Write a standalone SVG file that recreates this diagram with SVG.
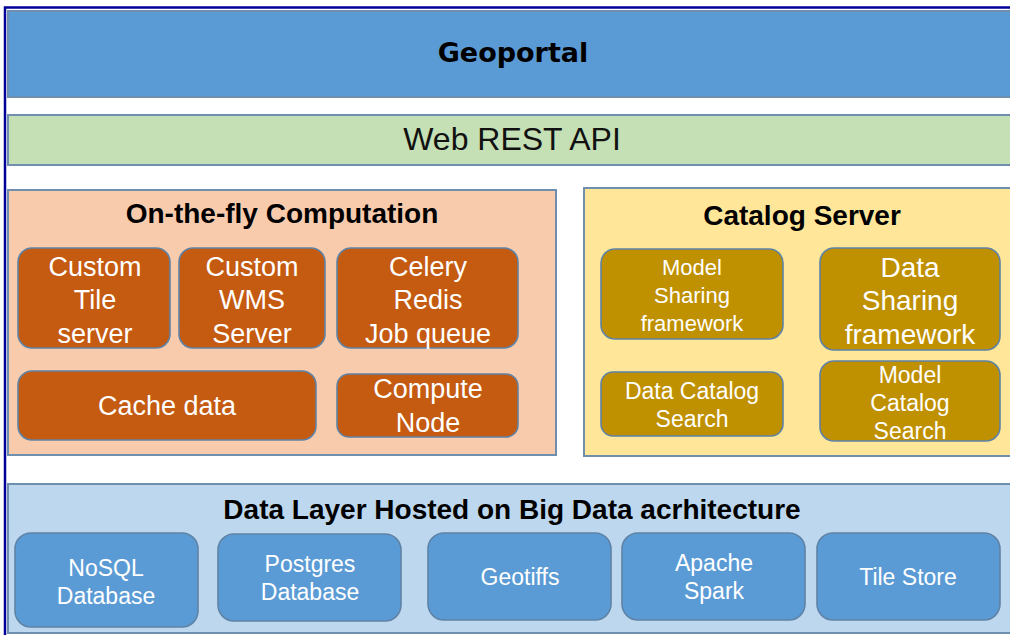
<svg xmlns="http://www.w3.org/2000/svg" width="1010" height="635" viewBox="0 0 1010 635">
<style>
  .band { stroke: #6f8fae; stroke-width: 2; }
  .node { stroke: #5f83a6; stroke-width: 1.6; }
  .t { font-family: "Liberation Sans", Arial, sans-serif; text-anchor: middle; }
  .hb { font-family: "Liberation Sans", Arial, sans-serif; font-weight: bold; fill: #000; text-anchor: middle; font-size: 28px; }
  .w { fill: #ffffff; }
  .orange { fill: #C55A11; }
  .gold { fill: #BF9000; }
  .blue { fill: #5B9BD5; }
</style>
<rect x="0" y="0" width="1010" height="635" fill="#ffffff"/>
<rect x="5" y="7.5" width="1020" height="640" fill="none" stroke="#000099" stroke-width="2.5"/>

<g id="geoportal">
  <rect class="band" x="8" y="11" width="1020" height="86" fill="#5B9BD5"/>
  <text x="513" y="62" text-anchor="middle" font-family="DejaVu Sans, Verdana, sans-serif" font-weight="bold" font-size="27">Geoportal</text>
</g>

<g id="web-rest-api">
  <rect class="band" x="8" y="115" width="1020" height="50" fill="#C5E0B4"/>
  <text class="t" x="512" y="150" font-size="32" fill="#111">Web REST API</text>
</g>

<g id="on-the-fly">
  <rect class="band" x="8" y="190" width="548" height="265" fill="#F8CBAD"/>
  <text class="hb" x="282" y="223">On-the-fly Computation</text>
</g>
<g id="custom-tile-server">
  <rect class="node orange" x="18" y="248" width="152" height="100" rx="14"/>
  <text class="t w" x="95" font-size="27"><tspan x="95" y="276">Custom</tspan><tspan x="95" y="309">Tile</tspan><tspan x="95" y="343">server</tspan></text>
</g>
<g id="custom-wms-server">
  <rect class="node orange" x="179" y="248" width="146" height="100" rx="14"/>
  <text class="t w" x="252" font-size="27"><tspan x="252" y="276">Custom</tspan><tspan x="252" y="309">WMS</tspan><tspan x="252" y="343">Server</tspan></text>
</g>
<g id="celery-redis">
  <rect class="node orange" x="337" y="248" width="181" height="100" rx="14"/>
  <text class="t w" x="428" font-size="27"><tspan x="428" y="276">Celery</tspan><tspan x="428" y="309">Redis</tspan><tspan x="428" y="343">Job queue</tspan></text>
</g>
<g id="cache-data">
  <rect class="node orange" x="18" y="371" width="298" height="69" rx="14"/>
  <text class="t w" x="167" y="415" font-size="27">Cache data</text>
</g>
<g id="compute-node">
  <rect class="node orange" x="337" y="374" width="181" height="63" rx="12"/>
  <text class="t w" x="428" font-size="27"><tspan x="428" y="398">Compute</tspan><tspan x="428" y="432">Node</tspan></text>
</g>

<g id="catalog-server">
  <rect class="band" x="584" y="188" width="440" height="268" fill="#FFE699"/>
  <text class="hb" x="802" y="225">Catalog Server</text>
</g>
<g id="model-sharing">
  <rect class="node gold" x="601" y="249" width="182" height="90" rx="14"/>
  <text class="t w" x="692" font-size="22"><tspan x="692" y="275">Model</tspan><tspan x="692" y="303">Sharing</tspan><tspan x="692" y="331">framework</tspan></text>
</g>
<g id="data-sharing">
  <rect class="node gold" x="820" y="248" width="180" height="102" rx="14"/>
  <text class="t w" x="910" font-size="28"><tspan x="910" y="277">Data</tspan><tspan x="910" y="310">Sharing</tspan><tspan x="910" y="344">framework</tspan></text>
</g>
<g id="data-catalog-search">
  <rect class="node gold" x="601" y="372" width="182" height="64" rx="12"/>
  <text class="t w" x="692" font-size="23"><tspan x="692" y="399">Data Catalog</tspan><tspan x="692" y="427">Search</tspan></text>
</g>
<g id="model-catalog-search">
  <rect class="node gold" x="820" y="361" width="180" height="80" rx="14"/>
  <text class="t w" x="910" font-size="23"><tspan x="910" y="383">Model</tspan><tspan x="910" y="411">Catalog</tspan><tspan x="910" y="439">Search</tspan></text>
</g>

<g id="data-layer">
  <rect class="band" x="8" y="484" width="1020" height="149" fill="#BDD7EE"/>
  <text class="hb" x="512" y="519">Data Layer Hosted on Big Data acrhitecture</text>
</g>
<g id="nosql">
  <rect class="node blue" x="15" y="533" width="183" height="94" rx="16"/>
  <text class="t w" x="106" font-size="23"><tspan x="106" y="576">NoSQL</tspan><tspan x="106" y="604">Database</tspan></text>
</g>
<g id="postgres">
  <rect class="node blue" x="218" y="534" width="183" height="87" rx="16"/>
  <text class="t w" x="310" font-size="23"><tspan x="310" y="572">Postgres</tspan><tspan x="310" y="600">Database</tspan></text>
</g>
<g id="geotiffs">
  <rect class="node blue" x="428" y="533" width="183" height="87" rx="16"/>
  <text class="t w" x="520" y="585" font-size="23">Geotiffs</text>
</g>
<g id="apache-spark">
  <rect class="node blue" x="622" y="533" width="183" height="87" rx="16"/>
  <text class="t w" x="714" font-size="23"><tspan x="714" y="571">Apache</tspan><tspan x="714" y="599">Spark</tspan></text>
</g>
<g id="tile-store">
  <rect class="node blue" x="817" y="533" width="183" height="87" rx="16"/>
  <text class="t w" x="908" y="585" font-size="23">Tile Store</text>
</g>

<g id="connectors"></g>
</svg>
